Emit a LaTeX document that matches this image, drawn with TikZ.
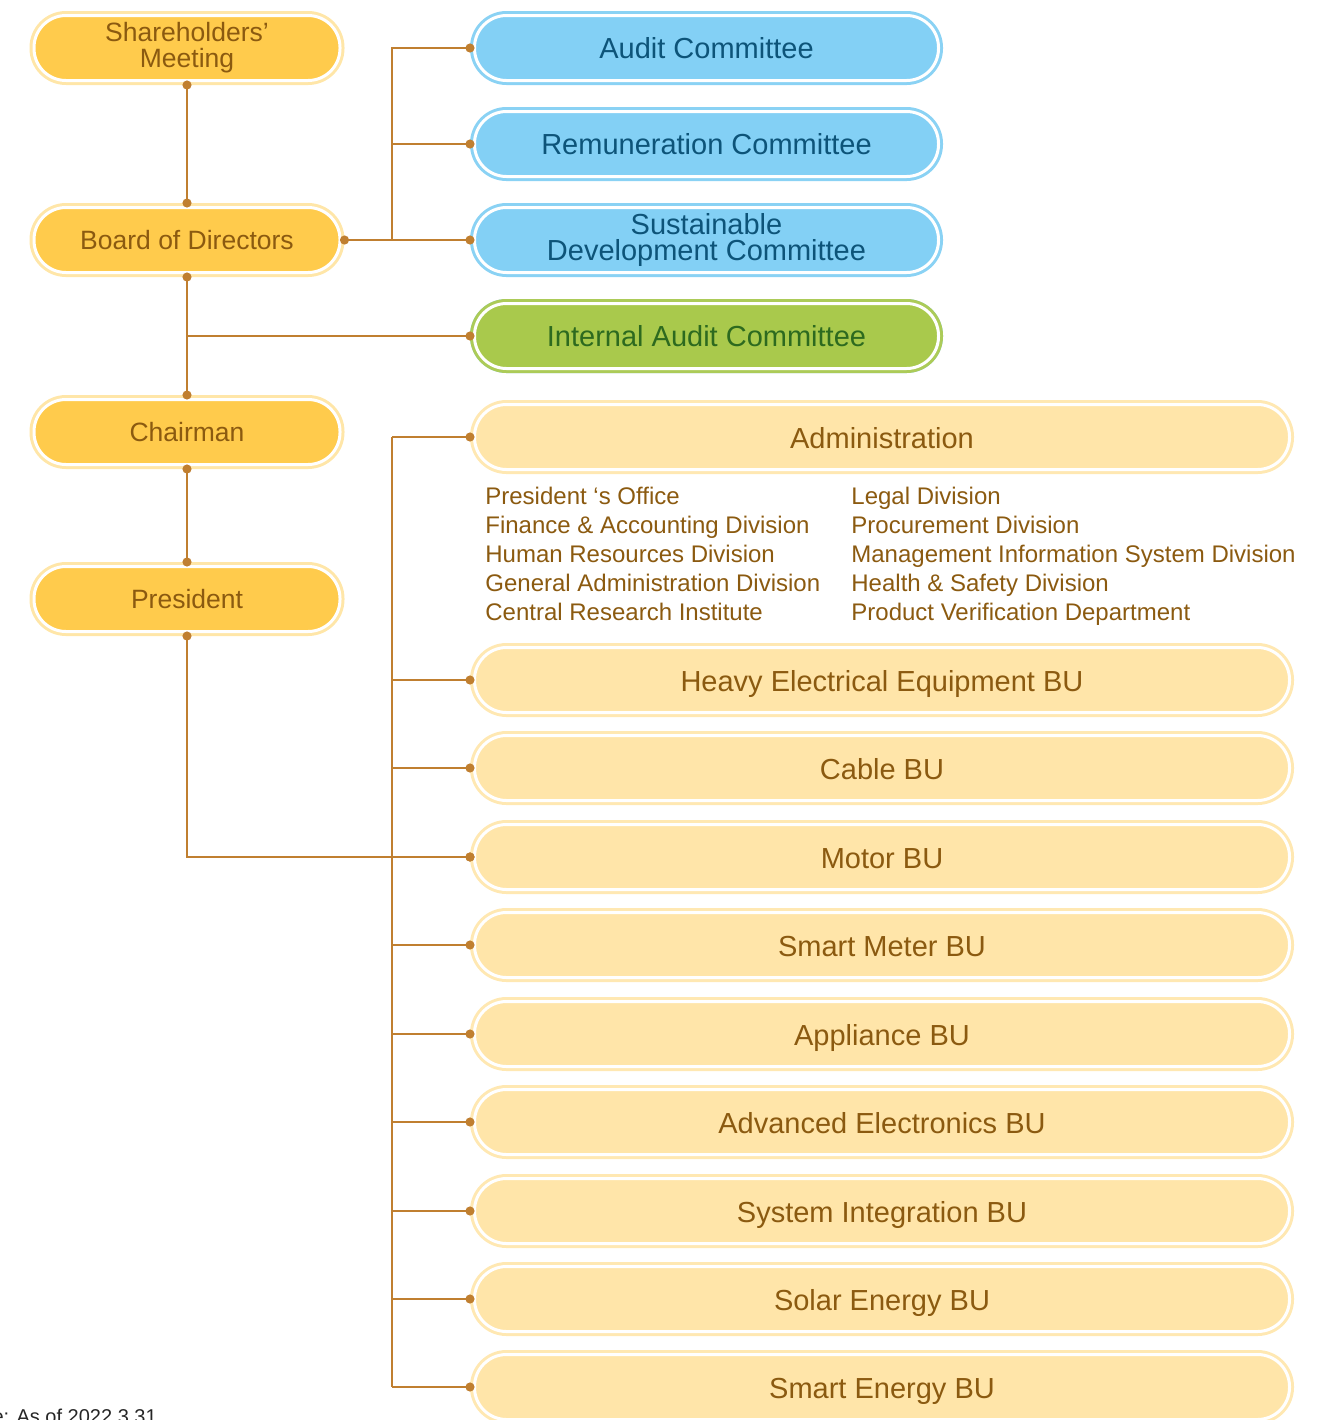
\documentclass[tikz,border=0pt]{standalone}
\usepackage{fontspec}
\setmainfont{Liberation Sans}
\usetikzlibrary{arrows.meta}

\definecolor{gold}{HTML}{FFCB4C}
\definecolor{goldring}{HTML}{FFE6A8}
\definecolor{sky}{HTML}{83D0F5}
\definecolor{skyring}{HTML}{8AD2F4}
\definecolor{skytext}{HTML}{0D5479}
\definecolor{leaf}{HTML}{A9C94C}
\definecolor{leafring}{HTML}{ACCB58}
\definecolor{leaftext}{HTML}{2D6A1F}
\definecolor{cream}{HTML}{FFE5A9}
\definecolor{creamring}{HTML}{FFE8B2}
\definecolor{bark}{HTML}{8B5A10}
\definecolor{linkc}{HTML}{C07F30}

\begin{document}
\begin{tikzpicture}[x=0.5pt,y=-0.5pt,
  pill/.style={draw=white,line width=1.5pt,rounded corners=16pt,minimum height=32.5pt,
    inner sep=0pt,outer sep=2.25pt,align=center},
  lead/.style={pill,minimum width=153pt,fill=gold,preaction={draw=goldring,line width=4.5pt},
    text=bark,font=\fontsize{13.25}{13}\selectfont},
  cmte/.style={pill,minimum width=232pt,fill=sky,preaction={draw=skyring,line width=4.5pt},
    text=skytext,font=\fontsize{14.5}{13}\selectfont},
  audbox/.style={cmte,fill=leaf,preaction={draw=leafring,line width=4.5pt},text=leaftext},
  bu/.style={pill,minimum width=407.5pt,fill=cream,preaction={draw=creamring,line width=4.5pt},
    text=bark,font=\fontsize{14.5}{13}\selectfont,text height=11.4pt,text depth=0pt},
  sub/.style={anchor=base west,inner sep=0pt,text=bark,font=\fontsize{12}{14}\selectfont},
  link/.style={draw=linkc,line width=1pt},
  dd/.style={link,{Circle[length=4.5pt,sep=-2.25pt]}-{Circle[length=4.5pt,sep=-2.25pt]}},
  ld/.style={link,-{Circle[length=4.5pt,sep=-2.25pt]}}]
\useasboundingbox (0,0) rectangle (1326,1420);

% top management
\node[lead] (sh) at (187,48) {Shareholders’\\Meeting};
\node[lead] (bod) at (187,240) {Board of Directors};
\node[lead] (chair) at (187,432) {Chairman};
\node[lead] (pres) at (187,599) {President};

% committees
\node[cmte] (audit) at (706.5,48) {Audit Committee};
\node[cmte] (remun) at (706.5,144) {Remuneration Committee};
\node[cmte] (sdc) at (706.5,240) {Sustainable\\Development Committee};
\node[audbox] (iac) at (706.5,336) {Internal Audit Committee};

% administration and business units
\node[bu] (admin) at (882,437) {Administration};
\foreach \nm/\t/\y in {heavy/Heavy Electrical Equipment BU/680,cable/Cable BU/768,
    motor/Motor BU/857,meter/Smart Meter BU/945,appl/Appliance BU/1034,
    adv/Advanced Electronics BU/1122,sysint/System Integration BU/1211,
    solar/Solar Energy BU/1299,smarte/Smart Energy BU/1387}
  \node[bu] (\nm) at (882,\y) {\t};

\foreach \t [count=\i] in {President ‘s Office,Finance \& Accounting Division,
    Human Resources Division,General Administration Division,Central Research Institute}
  \node[sub] at (485,475.5+29*\i) {\t};
\foreach \t [count=\i] in {Legal Division,Procurement Division,
    Management Information System Division,Health \& Safety Division,Product Verification Department}
  \node[sub] at (851,475.5+29*\i) {\t};

% connectors
\draw[dd] (sh.south) -- (bod.north);
\draw[dd] (bod.south) -- (chair.north);
\draw[dd] (chair.south) -- (pres.north);
\draw[ld] (bod.south |- iac.west) -- (iac.west);

\coordinate (cj) at (392,240);
\draw[dd] (bod.east) -- (cj) |- (audit.west);
\draw[ld] (cj) |- (remun.west);
\draw[ld] (cj) -- (sdc.west);

\coordinate (spine) at (392,437);
\draw[link] (spine) -- (spine |- smarte.west);
\draw[ld] (spine) -- (admin.west);
\foreach \nm in {heavy,cable,motor,meter,appl,adv,sysint,solar,smarte}
  \draw[ld] (spine |- \nm.west) -- (\nm.west);
\draw[dd] (pres.south) |- (motor.west);

\node[anchor=base west,inner sep=0pt,text=black!85,font=\fontsize{10}{12}\selectfont]
  (note) at (-39,1423) {Note: As of 2022.3.31};
\end{tikzpicture}
\end{document}
